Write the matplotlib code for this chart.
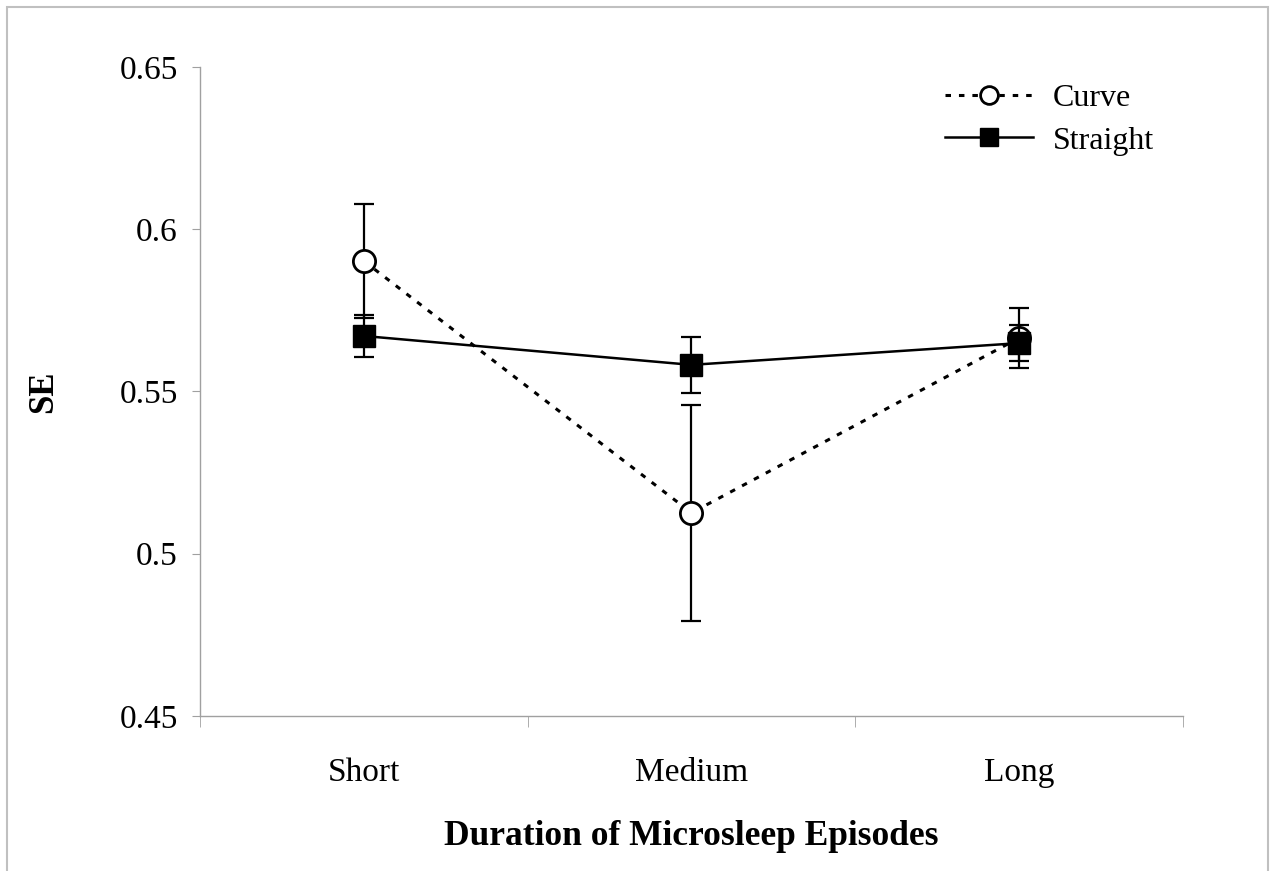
import matplotlib.pyplot as plt
import matplotlib.patches as mpatches
import numpy as np

categories = ["Short", "Medium", "Long"]
curve_vals = [0.5902, 0.5126, 0.5665]
curve_err = [0.0176, 0.0333, 0.0092]
straight_vals = [0.5671, 0.5582, 0.5649]
straight_err = [0.0065, 0.0087, 0.0055]

plt.rcParams['font.family'] = ['Liberation Serif', 'DejaVu Serif']

fig = plt.figure(figsize=(12.73, 8.71), dpi=100)
ax = fig.add_axes([0.1571, 0.1780, 0.9293 - 0.1571, 0.9231 - 0.1780])

x = np.arange(len(categories))

# Curve: dotted line, open circles
ax.errorbar(x, curve_vals, yerr=curve_err, fmt='none', ecolor='black',
            elinewidth=1.6, capsize=7, capthick=1.6, zorder=2)
curve_line, = ax.plot(x, curve_vals, linestyle=(0, (1.8, 2.6)), color='black',
                      linewidth=2.2, marker='o', markersize=16,
                      markerfacecolor='white', markeredgecolor='black',
                      markeredgewidth=2, label='Curve', zorder=3)

# Straight: solid line, filled squares
ax.errorbar(x, straight_vals, yerr=straight_err, fmt='none', ecolor='black',
            elinewidth=1.6, capsize=7, capthick=1.6, zorder=4)
straight_line, = ax.plot(x, straight_vals, linestyle='-', color='black',
                         linewidth=1.8, marker='s', markersize=16,
                         markerfacecolor='black', markeredgecolor='black',
                         label='Straight', zorder=5)

ax.set_xlim(-0.5, 2.5)
ax.set_ylim(0.45, 0.65)
ax.set_yticks([0.45, 0.5, 0.55, 0.6, 0.65])
ax.set_yticklabels(["0.45", "0.5", "0.55", "0.6", "0.65"])
ax.set_xticks(x)
ax.set_xticklabels(categories)
ax.set_xticks([-0.5, 0.5, 1.5, 2.5], minor=True)

for side in ['top', 'right']:
    ax.spines[side].set_visible(False)
for side in ['left', 'bottom']:
    ax.spines[side].set_color('#a0a0a0')
    ax.spines[side].set_linewidth(1)

ax.tick_params(axis='y', which='major', direction='out', length=6,
               color='#a0a0a0', labelsize=24, pad=10)
ax.tick_params(axis='x', which='major', length=0, labelsize=24, pad=30)
ax.tick_params(axis='x', which='minor', direction='out', length=8,
               color='#a0a0a0')

ax.set_xlabel("Duration of Microsleep Episodes", fontsize=25.5,
              fontweight='bold', labelpad=23)
ax.set_ylabel("SE", fontsize=25, fontweight='bold')
ax.yaxis.set_label_coords(-0.142, 0.5)

leg = ax.legend(handles=[curve_line, straight_line], loc='upper right',
                bbox_to_anchor=(1.0, 1.018), frameon=False, fontsize=23,
                handlelength=2.75, handletextpad=0.62, labelspacing=0.4,
                numpoints=1, markerscale=0.8)

# light grey frame around the figure
fig.patches.append(mpatches.Rectangle((0.0055, -0.05), 0.9905, 1.042,
                                      transform=fig.transFigure, fill=False,
                                      edgecolor='#c0c0c0', linewidth=1.5))

fig.savefig("out.png", dpi=100)
